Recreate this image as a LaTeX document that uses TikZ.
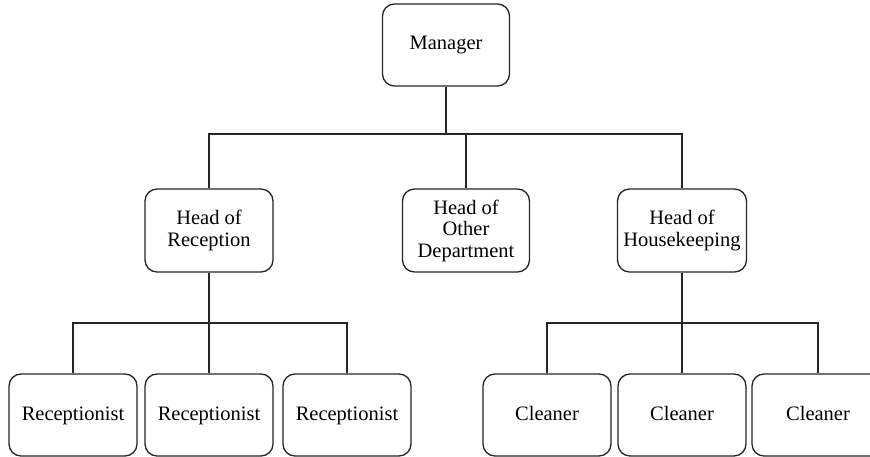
\documentclass[tikz,border=0pt]{standalone}
\usepackage{fontspec}
\setmainfont{Liberation Serif}
\begin{document}
\begin{tikzpicture}[x=1pt,y=-1pt,
  box/.style={draw=black!85, line width=1.3pt, rounded corners=12pt, fill=white,
    minimum width=128pt, minimum height=82pt, inner sep=2pt, align=center,
    font=\fontsize{20.5}{21.5}\selectfont},
  leaf/.style={box, text height=14pt, text depth=4pt},
  conn/.style={draw=black!85, line width=1.3pt}]
\useasboundingbox (0,0) rectangle (870,457);
\clip (0,0) rectangle (870,457);
\node[box, minimum width=127pt] (mgr) at (446,45) {Manager};
\node[box, minimum height=83pt] (hr) at (209,230.5) {Head of\\Reception};
\node[box, minimum width=127pt, minimum height=83pt] (ho) at (466,230.5) {Head of\\Other\\Department};
\node[box, minimum width=129pt, minimum height=83pt] (hh) at (682,230.5) {Head of\\Housekeeping};
\node[leaf] (r1) at (73,415) {Receptionist};
\node[leaf] (r2) at (209,415) {Receptionist};
\node[leaf] (r3) at (347,415) {Receptionist};
\node[leaf] (c1) at (547,415) {Cleaner};
\node[leaf] (c2) at (682,415) {Cleaner};
\node[leaf, minimum width=132pt] (c3) at (818,415) {Cleaner};
\coordinate (top) at (446,134);
\coordinate (botL) at (209,323);
\coordinate (botR) at (682,323);
% level 1 to level 2
\draw[conn] (mgr.south) -- (top);
\draw[conn] (hr.north) |- (top) -| (hh.north);
\draw[conn] (ho.north) -- (ho.north |- top);
% reception
\draw[conn] (hr.south) -- (botL);
\draw[conn] (r1.north) |- (botL) -| (r3.north);
\draw[conn] (r2.north) -- (botL);
% housekeeping
\draw[conn] (hh.south) -- (botR);
\draw[conn] (c1.north) |- (botR) -| (c3.north);
\draw[conn] (c2.north) -- (botR);
\end{tikzpicture}
\end{document}
